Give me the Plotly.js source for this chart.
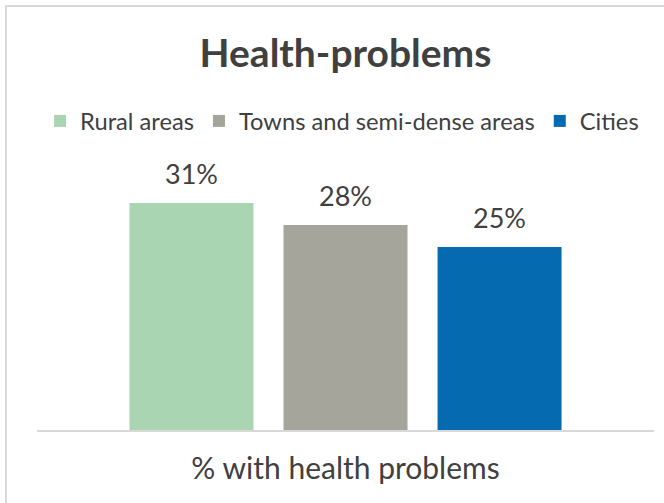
<!DOCTYPE html>
<html>
<head>
<meta charset="utf-8">
<script src="https://cdn.plot.ly/plotly-3.0.1.min.js"></script>
<style>
  html, body { margin: 0; padding: 0; background: #ffffff; }
  #wrap { position: relative; width: 664px; height: 503px; overflow: hidden; }
  #chart { width: 664px; height: 503px; }
  #frame { position: absolute; left: 5px; top: 5px; width: 700px; height: 600px;
           border: 2px solid #d9d9d9; pointer-events: none; }
</style>
</head>
<body>
<div id="wrap">
  <div id="chart"></div>
  <div id="frame"></div>
</div>
<script>
const categories = ["% with health problems"];
const seriesNames = ["Rural areas", "Towns and semi-dense areas", "Cities"];
const seriesValues = [31, 28, 25];
const seriesColors = ["#a9d5b3", "#a5a59b", "#066ab0"];
const titleText = "Health-problems";

const FONT = "Lato, 'Open Sans', sans-serif";
const TXT = "#404040";

const traces = seriesNames.map((name, i) => ({
  type: "bar",
  name: name,
  x: categories,
  y: [seriesValues[i]],
  marker: { color: seriesColors[i] },
  hoverinfo: "skip"
}));

// value labels above each bar
const slot = 154; // pixel width of one bar slot
const annotations = seriesNames.map((name, i) => ({
  xref: "x", yref: "y",
  x: categories[0], y: seriesValues[i],
  text: seriesValues[i] + "%",
  showarrow: false,
  xshift: (i - (seriesNames.length - 1) / 2) * slot,
  yanchor: "bottom",
  yshift: 11,
  font: { family: FONT, size: 27, color: TXT }
}));

const layout = {
  width: 664, height: 503,
  margin: { l: 37, r: 10, t: 150, b: 73, pad: 0, autoexpand: false },
  paper_bgcolor: "#ffffff",
  plot_bgcolor: "#ffffff",
  font: { family: FONT, color: TXT },
  title: {
    text: "<b>" + titleText + "</b>",
    font: { family: FONT, size: 39, color: TXT },
    x: 0.5, xref: "paper", xanchor: "center",
    y: 1 - 53 / 503, yref: "container", yanchor: "middle"
  },
  showlegend: true,
  legend: {
    orientation: "h",
    x: 0.005, xref: "paper", xanchor: "left",
    y: 1 - 121 / 503, yref: "container", yanchor: "middle",
    font: { family: FONT, size: 23.7, color: TXT },
    itemclick: false, itemdoubleclick: false,
    itemwidth: 30,
    traceorder: "normal"
  },
  barmode: "group",
  bargap: 0.251,
  bargroupgap: 0.195,
  xaxis: {
    type: "category",
    showline: true, linecolor: "#d9d9d9", linewidth: 2,
    showgrid: false, zeroline: false,
    ticks: "",
    tickfont: { family: FONT, size: 30, color: TXT },
    ticklabelstandoff: 11,
    fixedrange: true
  },
  yaxis: {
    range: [0, 38.24],
    visible: false,
    showgrid: false, zeroline: false,
    fixedrange: true
  },
  annotations: annotations
};

Plotly.newPlot("chart", traces, layout, { displayModeBar: false, staticPlot: true });
</script>
</body>
</html>
